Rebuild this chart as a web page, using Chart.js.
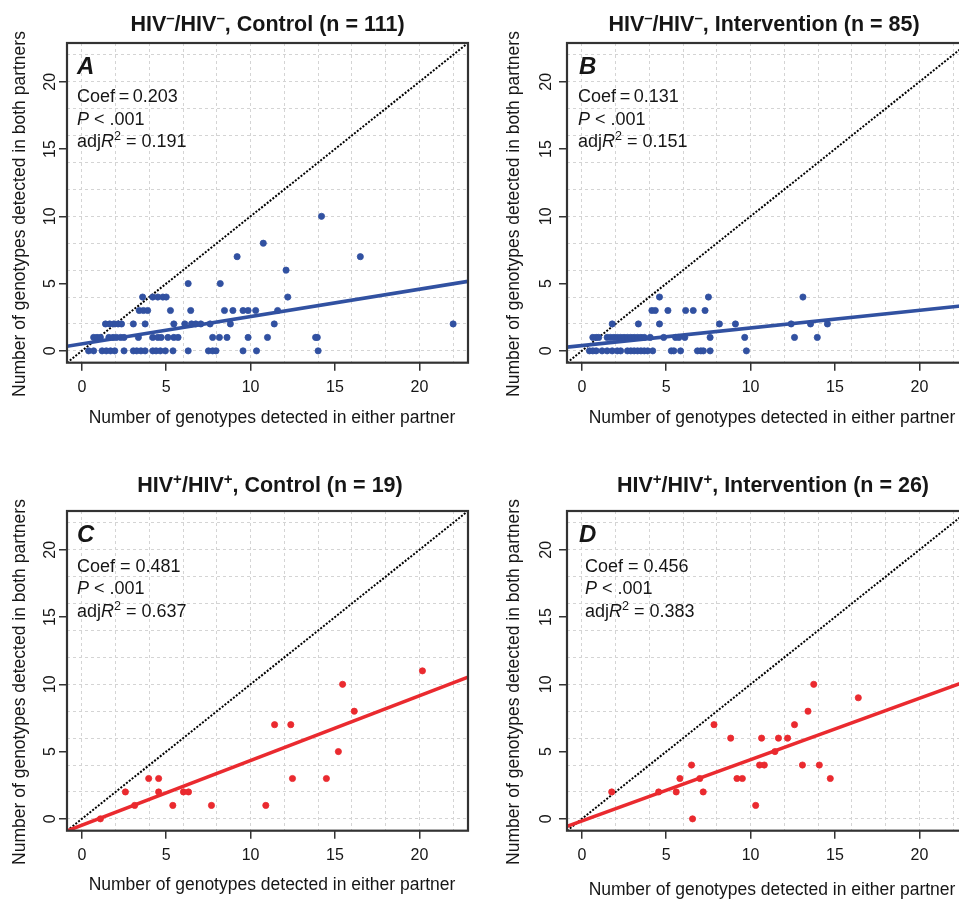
<!DOCTYPE html>
<html>
<head>
<meta charset="utf-8">
<script src="https://cdn.jsdelivr.net/npm/chart.js@4.4.1/dist/chart.umd.min.js"></script>
<style>
  html, body { margin: 0; padding: 0; background: #fff; overflow: hidden; }
  body { width: 959px; height: 899px; position: relative; }
  canvas { position: absolute; }
</style>
</head>
<body>
<canvas id="panelA" width="480" height="440" style="left:0;top:0"></canvas>
<canvas id="panelB" width="480" height="440" style="left:500px;top:0"></canvas>
<canvas id="panelC" width="480" height="440" style="left:0;top:468px"></canvas>
<canvas id="panelD" width="480" height="440" style="left:500px;top:468px"></canvas>
<script>
const FONT = '"Liberation Sans", Arial, Helvetica, sans-serif';

// axis range and ticks (same for all four panels)
const axisMin = -0.88;
const axisMax = 22.88;
const tickValues = [0, 5, 10, 15, 20];
const gridValues = [0, 2, 4, 6, 8, 10, 12, 14, 16, 18, 20, 22];

// A: HIV-/HIV-, Control
const aX = [14.2, 10.75, 9.2, 16.5, 12.1, 6.3, 8.2,
  3.6, 4.2, 4.5, 4.8, 5.0, 12.2,
  3.4, 3.65, 3.9, 5.25, 6.45, 8.45, 8.95, 9.55, 9.85, 10.3, 11.6,
  1.4, 1.65, 1.9, 2.15, 2.35, 3.05, 3.75, 5.45, 6.1, 6.5, 6.75, 7.05, 7.6, 8.8, 11.4, 22.0,
  0.7, 0.9, 1.1, 1.6, 1.85, 2.05, 2.3, 2.5, 3.35, 4.2, 4.5, 4.7, 5.1, 5.45, 5.7, 7.75, 8.15, 8.6, 9.85, 11.0, 13.85, 13.95,
  0.4, 0.7, 1.2, 1.45, 1.7, 1.95, 2.5, 3.05, 3.25, 3.5, 3.75, 4.2, 4.4, 4.65, 4.95, 5.4, 6.3, 7.5, 7.75, 7.95, 9.55, 10.35, 14.0];
const aY = [10, 8, 7, 7, 6, 5, 5,
  4, 4, 4, 4, 4, 4,
  3, 3, 3, 3, 3, 3, 3, 3, 3, 3, 3,
  2, 2, 2, 2, 2, 2, 2, 2, 2, 2, 2, 2, 2, 2, 2, 2,
  1, 1, 1, 1, 1, 1, 1, 1, 1, 1, 1, 1, 1, 1, 1, 1, 1, 1, 1, 1, 1, 1,
  0, 0, 0, 0, 0, 0, 0, 0, 0, 0, 0, 0, 0, 0, 0, 0, 0, 0, 0, 0, 0, 0, 0];

// B: HIV-/HIV-, Intervention
const bX = [4.6, 7.5, 13.1,
  4.15, 4.35, 5.1, 6.15, 6.6, 7.3,
  1.8, 3.35, 4.6, 8.15, 9.1, 12.4, 13.55, 14.55,
  0.65, 0.85, 1.0, 1.5, 1.7, 1.9, 2.1, 2.3, 2.5, 2.7, 2.9, 3.1, 3.3, 3.5, 3.7, 4.05, 4.85, 5.55, 5.75, 6.1, 7.6, 9.65, 12.6, 13.95,
  0.45, 0.65, 0.85, 1.2, 1.5, 1.8, 2.1, 2.3, 2.7, 2.9, 3.1, 3.3, 3.5, 3.7, 3.9, 4.2, 5.3, 5.45, 5.85, 6.85, 7.05, 7.2, 7.6, 9.75];
const bY = [4, 4, 4,
  3, 3, 3, 3, 3, 3,
  2, 2, 2, 2, 2, 2, 2, 2,
  1, 1, 1, 1, 1, 1, 1, 1, 1, 1, 1, 1, 1, 1, 1, 1, 1, 1, 1, 1, 1, 1, 1, 1,
  0, 0, 0, 0, 0, 0, 0, 0, 0, 0, 0, 0, 0, 0, 0, 0, 0, 0, 0, 0, 0, 0, 0, 0];

// C: HIV+/HIV+, Control
const cX = [1.1, 2.58, 3.13, 3.96, 4.55, 4.55, 5.39, 6.02, 6.32, 7.68, 10.9, 11.42, 12.38, 12.48, 14.49, 15.2, 15.45, 16.14, 20.18];
const cY = [0, 2, 1, 3, 3, 2, 1, 2, 2, 1, 1, 7, 7, 3, 3, 5, 10, 8, 11];

// D: HIV+/HIV+, Intervention
const dX = [1.77, 4.55, 5.59, 5.81, 6.5, 6.56, 6.99, 7.19, 7.83, 8.82, 9.19, 9.51, 10.3, 10.53, 10.81, 10.65, 11.44, 11.65, 12.19, 12.6, 13.07, 13.4, 13.74, 14.07, 14.72, 16.38];
const dY = [2, 2, 2, 3, 4, 0, 3, 2, 7, 6, 3, 3, 1, 4, 4, 6, 5, 6, 6, 7, 4, 8, 10, 4, 3, 9];

// fitted lines and stats, in panel order A, B, C, D
const coefs = [0.203, 0.131, 0.481, 0.456];
const intercepts = [0.52, 0.39, -0.47, -0.16];
const coefText = ['0.203', '0.131', '0.481', '0.456'];
const pText = ['.001', '.001', '.001', '.001'];
const r2Text = ['0.191', '0.151', '0.637', '0.383'];
const groupNames = ['Control', 'Intervention', 'Control', 'Intervention'];
const groupN = [111, 85, 19, 26];

const BLUE = '#3151a1';
const RED = '#ea2a2f';
const INK = '#161616';

const panels = [
  { id: 'panelA', letter: 'A', xs: aX, ys: aY, color: BLUE, sign: '–', sep: '\u2009',
    titleX: 267.5, titleY: 31, textX: 77, letterX: 77, textY: 102, yTitleX: 25, yTickX: 55, xTitleY: 423 },
  { id: 'panelB', letter: 'B', xs: bX, ys: bY, color: BLUE, sign: '–', sep: '\u2009',
    titleX: 264, titleY: 31, textX: 78, letterX: 79, textY: 102, yTitleX: 19, yTickX: 51, xTitleY: 423 },
  { id: 'panelC', letter: 'C', xs: cX, ys: cY, color: RED, sign: '+', sep: ' ',
    titleX: 270, titleY: 24, textX: 77, letterX: 77, textY: 103.5, yTitleX: 25, yTickX: 55, xTitleY: 422 },
  { id: 'panelD', letter: 'D', xs: dX, ys: dY, color: RED, sign: '+', sep: ' ',
    titleX: 273, titleY: 24, textX: 85, letterX: 79, textY: 103.5, yTitleX: 19, yTickX: 51, xTitleY: 427 },
];

function partFont(p, size) {
  const s = p.sup ? size * 0.7 : size;
  return (p.i ? 'italic ' : '') + (p.b ? 'bold ' : '') + s + 'px ' + FONT;
}

function drawRich(ctx, parts, x, y, size, align) {
  let w = 0;
  parts.forEach(p => { ctx.font = partFont(p, size); w += ctx.measureText(p.t).width; });
  let cx = align === 'center' ? x - w / 2 : x;
  ctx.textAlign = 'left';
  ctx.textBaseline = 'alphabetic';
  parts.forEach(p => {
    ctx.font = partFont(p, size);
    ctx.fillText(p.t, cx, p.sup ? y - size * 0.38 : y);
    cx += ctx.measureText(p.t).width;
  });
}

const decorations = {
  id: 'decorations',
  afterDraw(chart) {
    const cfg = chart.options.plugins.decorations;
    const ctx = chart.ctx;
    const area = chart.chartArea;
    const yScale = chart.scales.y;
    ctx.save();
    ctx.fillStyle = INK;

    // plot frame
    ctx.strokeStyle = '#333';
    ctx.lineWidth = 2.2;
    ctx.strokeRect(area.left, area.top, area.right - area.left, area.bottom - area.top);

    // title
    drawRich(ctx, [
      { t: 'HIV', b: 1 }, { t: cfg.sign, b: 1, sup: 1 }, { t: '/HIV', b: 1 }, { t: cfg.sign, b: 1, sup: 1 },
      { t: ', ' + cfg.group + ' (n = ' + cfg.n + ')', b: 1 }
    ], cfg.titleX, cfg.titleY, 21.5, 'center');

    // panel letter and stats
    drawRich(ctx, [{ t: cfg.letter, b: 1, i: 1 }], cfg.letterX, 73.5, 24, 'left');
    drawRich(ctx, [{ t: 'Coef' + cfg.sep + '=' + cfg.sep + cfg.coef }], cfg.textX, cfg.textY, 18, 'left');
    drawRich(ctx, [{ t: 'P', i: 1 }, { t: ' < ' + cfg.p }], cfg.textX, cfg.textY + 22.5, 18, 'left');
    drawRich(ctx, [{ t: 'adj' }, { t: 'R', i: 1 }, { t: '2', sup: 1 }, { t: ' = ' + cfg.r2 }], cfg.textX, cfg.textY + 45, 18, 'left');

    // rotated y tick labels
    ctx.font = '16px ' + FONT;
    ctx.textAlign = 'center';
    ctx.textBaseline = 'alphabetic';
    yScale.ticks.forEach(t => {
      const py = yScale.getPixelForValue(t.value);
      ctx.save();
      ctx.translate(cfg.yTickX, py);
      ctx.rotate(-Math.PI / 2);
      ctx.fillText(String(t.value), 0, 0);
      ctx.restore();
    });

    // axis titles
    ctx.font = '17.5px ' + FONT;
    ctx.save();
    ctx.translate(cfg.yTitleX, 214);
    ctx.rotate(-Math.PI / 2);
    ctx.fillText('Number of genotypes detected in both partners', 0, 0);
    ctx.restore();
    ctx.fillText('Number of genotypes detected in either partner', 272, cfg.xTitleY);
    ctx.restore();
  }
};

function setTicks(values) {
  return scale => { scale.ticks = values.map(v => ({ value: v })); };
}

panels.forEach((p, i) => {
  const points = p.xs.map((x, k) => ({ x: x, y: p.ys[k] }));
  const fit = [axisMin, axisMax].map(x => ({ x: x, y: intercepts[i] + coefs[i] * x }));
  const identity = [{ x: axisMin, y: axisMin }, { x: axisMax, y: axisMax }];

  new Chart(document.getElementById(p.id), {
    type: 'scatter',
    data: {
      datasets: [
        { data: points, backgroundColor: p.color, borderColor: p.color, borderWidth: 0.8,
          pointRadius: 3.1, order: 0, xAxisID: 'x', yAxisID: 'y' },
        { data: fit, showLine: true, borderColor: p.color, borderWidth: 3.6, pointRadius: 0,
          order: 1, xAxisID: 'x', yAxisID: 'y' },
        { data: identity, showLine: true, borderColor: '#000', borderWidth: 2, borderDash: [2, 1.6],
          pointRadius: 0, order: 2, xAxisID: 'x', yAxisID: 'y' },
      ]
    },
    options: {
      responsive: false,
      animation: false,
      events: [],
      layout: { padding: { top: 43, right: 12, left: 0, bottom: 0 } },
      scales: {
        x: {
          type: 'linear', position: 'bottom', min: axisMin, max: axisMax,
          afterBuildTicks: setTicks(tickValues),
          afterFit: scale => { scale.height = 77.3; },
          ticks: { font: { family: FONT, size: 16 }, color: INK, padding: 7, maxRotation: 0, autoSkip: false },
          grid: { drawOnChartArea: false, drawTicks: true, tickLength: 8, color: '#333', lineWidth: 1.5 },
          border: { display: false },
        },
        y: {
          type: 'linear', position: 'left', min: axisMin, max: axisMax,
          afterBuildTicks: setTicks(tickValues),
          afterFit: scale => { scale.width = 67; },
          ticks: { display: false },
          grid: { drawOnChartArea: false, drawTicks: true, tickLength: 8, color: '#333', lineWidth: 1.5 },
          border: { display: false },
        },
        xg: {
          type: 'linear', position: 'bottom', min: axisMin, max: axisMax,
          afterBuildTicks: setTicks(gridValues),
          afterFit: scale => { scale.height = 0; },
          ticks: { display: false },
          grid: { drawTicks: false, color: '#d4d4d4', lineWidth: 1 },
          border: { display: false, dash: [3, 3] },
        },
        yg: {
          type: 'linear', position: 'left', min: axisMin, max: axisMax,
          afterBuildTicks: setTicks(gridValues),
          afterFit: scale => { scale.width = 0; },
          ticks: { display: false },
          grid: { drawTicks: false, color: '#d4d4d4', lineWidth: 1 },
          border: { display: false, dash: [3, 3] },
        },
      },
      plugins: {
        legend: { display: false },
        tooltip: { enabled: false },
        decorations: Object.assign({}, p, {
          group: groupNames[i], n: groupN[i], coef: coefText[i], p: pText[i], r2: r2Text[i]
        }),
      },
    },
    plugins: [decorations],
  });
});
</script>
</body>
</html>
